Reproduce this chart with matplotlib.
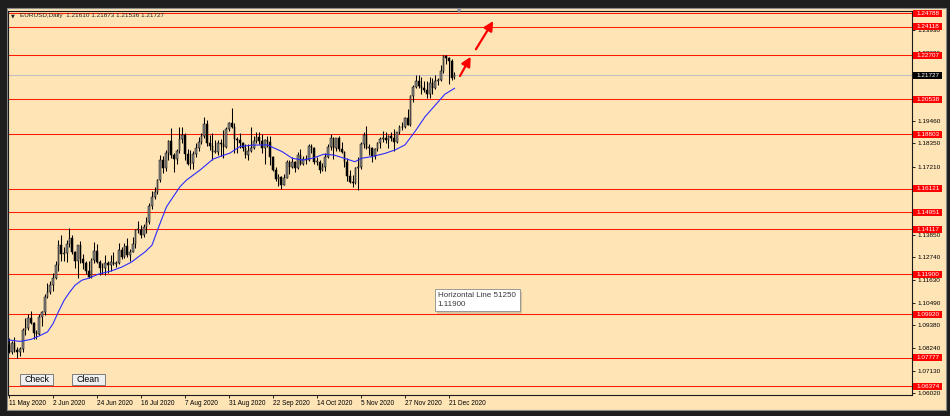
import numpy as np
import matplotlib.pyplot as plt
from matplotlib.patches import Rectangle
import matplotlib.transforms as mtransforms

# ---- data: EURUSD daily bars, 11 May 2020 .. 23 Dec 2020 ----
open_ = [
    1.0840, 1.0805, 1.0850, 1.0815, 1.0805, 1.0820, 1.0915, 1.0925, 1.0975, 1.0950, 1.0900, 1.0895, 1.0980, 1.1005, 1.1075,
    1.1100, 1.1135, 1.1170, 1.1235, 1.1335, 1.1290, 1.1295, 1.1340, 1.1370, 1.1300, 1.1255, 1.1335, 1.1265, 1.1245, 1.1205,
    1.1175, 1.1260, 1.1305, 1.1250, 1.1220, 1.1220, 1.1245,
    1.1235, 1.1250, 1.1240, 1.1245, 1.1310, 1.1275, 1.1330, 1.1285, 1.1300, 1.1340, 1.1410, 1.1410, 1.1385, 1.1425, 1.1445,
    1.1525, 1.1570, 1.1595, 1.1655, 1.1755, 1.1715, 1.1790, 1.1845,
    1.1780, 1.1760, 1.1800, 1.1855, 1.1875, 1.1785, 1.1735, 1.1740, 1.1785, 1.1815, 1.1840, 1.1870, 1.1930, 1.1835, 1.1825,
    1.1795, 1.1795, 1.1835, 1.1830, 1.1820, 1.1905,
    1.1935, 1.1915, 1.1855, 1.1850, 1.1835, 1.1815, 1.1780, 1.1800, 1.1815, 1.1845, 1.1865, 1.1845, 1.1815, 1.1850, 1.1840,
    1.1770, 1.1705, 1.1660, 1.1670, 1.1630, 1.1665, 1.1745,
    1.1720, 1.1745, 1.1715, 1.1780, 1.1735, 1.1760, 1.1755, 1.1825, 1.1815, 1.1745, 1.1745, 1.1705, 1.1720, 1.1770, 1.1820,
    1.1860, 1.1815, 1.1860, 1.1810, 1.1795, 1.1745, 1.1675,
    1.1645, 1.1640, 1.1715, 1.1720, 1.1830, 1.1875, 1.1815, 1.1815, 1.1775, 1.1810, 1.1835, 1.1855, 1.1860, 1.1850, 1.1870,
    1.1860, 1.1840, 1.1890, 1.1915, 1.1915, 1.1960,
    1.1925, 1.2070, 1.2115, 1.2145, 1.2120, 1.2110, 1.2100, 1.2080, 1.2135, 1.2110, 1.2145, 1.2150, 1.2195, 1.2265, 1.2255,
    1.2240, 1.21610,
]
high = [
    1.0875, 1.0860, 1.0880, 1.0830, 1.0830, 1.0925, 1.0975, 1.0995, 1.1010, 1.0955, 1.0915, 1.0995, 1.1010, 1.1090, 1.1145,
    1.1155, 1.1195, 1.1255, 1.1360, 1.1385, 1.1325, 1.1360, 1.1420, 1.1385, 1.1305, 1.1335, 1.1355, 1.1290, 1.1255, 1.1255,
    1.1270, 1.1350, 1.1340, 1.1260, 1.1245, 1.1285, 1.1255,
    1.1285, 1.1300, 1.1255, 1.1345, 1.1325, 1.1345, 1.1370, 1.1315, 1.1375, 1.1415, 1.1450, 1.1435, 1.1440, 1.1470, 1.1540,
    1.1600, 1.1620, 1.1660, 1.1780, 1.1775, 1.1805, 1.1850, 1.1910,
    1.1790, 1.1810, 1.1915, 1.1915, 1.1885, 1.1810, 1.1805, 1.1800, 1.1835, 1.1865, 1.1885, 1.1965, 1.1950, 1.1875, 1.1885,
    1.1850, 1.1850, 1.1855, 1.1900, 1.1915, 1.1940,
    1.2010, 1.1935, 1.1865, 1.1885, 1.1840, 1.1830, 1.1830, 1.1915, 1.1870, 1.1890, 1.1890, 1.1880, 1.1855, 1.1870, 1.1870,
    1.1775, 1.1720, 1.1685, 1.1675, 1.1685, 1.1755, 1.1755,
    1.1770, 1.1750, 1.1795, 1.1810, 1.1775, 1.1780, 1.1830, 1.1830, 1.1820, 1.1770, 1.1755, 1.1740, 1.1790, 1.1830, 1.1880,
    1.1865, 1.1860, 1.1870, 1.1840, 1.1800, 1.1765, 1.1705,
    1.1680, 1.1720, 1.1770, 1.1840, 1.1890, 1.1920, 1.1830, 1.1820, 1.1815, 1.1840, 1.1865, 1.1895, 1.1890, 1.1875, 1.1890,
    1.1905, 1.1890, 1.1925, 1.1940, 1.1965, 1.2005,
    1.2075, 1.2125, 1.2175, 1.2175, 1.2165, 1.2145, 1.2145, 1.2165, 1.2160, 1.2175, 1.2160, 1.2220, 1.2273, 1.2270, 1.2260,
    1.2250, 1.21873,
]
low = [
    1.0800, 1.0795, 1.0805, 1.0775, 1.0785, 1.0805, 1.0890, 1.0915, 1.0945, 1.0870, 1.0870, 1.0890, 1.0935, 1.0990, 1.1070,
    1.1090, 1.1105, 1.1165, 1.1205, 1.1255, 1.1255, 1.1250, 1.1325, 1.1290, 1.1220, 1.1170, 1.1245, 1.1215, 1.1190, 1.1170,
    1.1170, 1.1245, 1.1245, 1.1185, 1.1190, 1.1185, 1.1195,
    1.1205, 1.1235, 1.1225, 1.1240, 1.1265, 1.1270, 1.1275, 1.1255, 1.1300, 1.1320, 1.1395, 1.1370, 1.1375, 1.1395, 1.1440,
    1.1510, 1.1560, 1.1585, 1.1645, 1.1690, 1.1700, 1.1755, 1.1765,
    1.1695, 1.1735, 1.1790, 1.1835, 1.1755, 1.1730, 1.1710, 1.1710, 1.1770, 1.1800, 1.1830, 1.1860, 1.1825, 1.1805, 1.1755,
    1.1790, 1.1780, 1.1775, 1.1765, 1.1815, 1.1895,
    1.1910, 1.1790, 1.1790, 1.1815, 1.1800, 1.1765, 1.1755, 1.1795, 1.1810, 1.1835, 1.1830, 1.1790, 1.1735, 1.1820, 1.1730,
    1.1700, 1.1650, 1.1625, 1.1612, 1.1630, 1.1665, 1.1685,
    1.1715, 1.1695, 1.1710, 1.1730, 1.1730, 1.1735, 1.1750, 1.1790, 1.1735, 1.1730, 1.1690, 1.1700, 1.1700, 1.1765, 1.1805,
    1.1760, 1.1800, 1.1800, 1.1790, 1.1720, 1.1650, 1.1640,
    1.1620, 1.1635, 1.1603, 1.1710, 1.1815, 1.1810, 1.1780, 1.1745, 1.1760, 1.1800, 1.1815, 1.1840, 1.1835, 1.1815, 1.1845,
    1.1800, 1.1835, 1.1880, 1.1900, 1.1910, 1.1925,
    1.1920, 1.2040, 1.2110, 1.2110, 1.2080, 1.2090, 1.2060, 1.2060, 1.2080, 1.2105, 1.2125, 1.2145, 1.2185, 1.2225, 1.2130,
    1.2150, 1.21536,
]
close = [
    1.0805, 1.0850, 1.0815, 1.0805, 1.0820, 1.0915, 1.0925, 1.0975, 1.0950, 1.0900, 1.0895, 1.0980, 1.1005, 1.1075, 1.1100,
    1.1135, 1.1170, 1.1235, 1.1335, 1.1290, 1.1295, 1.1340, 1.1370, 1.1300, 1.1255, 1.1335, 1.1265, 1.1245, 1.1205, 1.1175,
    1.1260, 1.1305, 1.1250, 1.1220, 1.1220, 1.1245, 1.1235,
    1.1250, 1.1240, 1.1245, 1.1310, 1.1275, 1.1330, 1.1285, 1.1300, 1.1340, 1.1410, 1.1410, 1.1385, 1.1425, 1.1445, 1.1525,
    1.1570, 1.1595, 1.1655, 1.1755, 1.1715, 1.1790, 1.1845, 1.1780,
    1.1760, 1.1800, 1.1855, 1.1875, 1.1785, 1.1735, 1.1740, 1.1785, 1.1815, 1.1840, 1.1870, 1.1930, 1.1835, 1.1825, 1.1795,
    1.1795, 1.1835, 1.1830, 1.1820, 1.1905, 1.1935,
    1.1915, 1.1855, 1.1850, 1.1835, 1.1815, 1.1780, 1.1800, 1.1815, 1.1845, 1.1865, 1.1845, 1.1815, 1.1850, 1.1840, 1.1770,
    1.1705, 1.1660, 1.1670, 1.1630, 1.1665, 1.1745, 1.1720,
    1.1745, 1.1715, 1.1780, 1.1735, 1.1760, 1.1755, 1.1825, 1.1815, 1.1745, 1.1745, 1.1705, 1.1720, 1.1770, 1.1820, 1.1860,
    1.1815, 1.1860, 1.1810, 1.1795, 1.1745, 1.1675, 1.1645,
    1.1640, 1.1715, 1.1720, 1.1830, 1.1875, 1.1815, 1.1815, 1.1775, 1.1810, 1.1835, 1.1855, 1.1860, 1.1850, 1.1870, 1.1860,
    1.1840, 1.1890, 1.1915, 1.1915, 1.1960, 1.1925,
    1.2070, 1.2115, 1.2145, 1.2120, 1.2110, 1.2100, 1.2080, 1.2135, 1.2110, 1.2145, 1.2150, 1.2195, 1.2265, 1.2255, 1.2240,
    1.2160, 1.21727,
]

# moving average (bar index, price)
ma_idx = [0, 4, 8, 11, 14, 16, 18, 20, 22, 24, 26.5, 29, 32.5, 37, 41, 44.6, 47, 49.5, 52, 54.5, 57.3, 62.2, 64.6,
          69.5, 74.2, 80.4, 84, 88.7, 94, 96, 99.3, 103, 106.8, 110.6, 114.5, 118.2, 125.8, 128.2, 131.9,
          136.7, 140.4, 144, 147.6, 151.3, 156.1, 158.5, 162]
ma_val = [1.0865, 1.0858, 1.0868, 1.0885, 1.0905, 1.0945, 1.1005, 1.1060, 1.1100, 1.1135, 1.1160, 1.1170, 1.1190,
          1.1205, 1.1225, 1.1250, 1.1275, 1.1300, 1.1333, 1.1425, 1.1523, 1.1622, 1.1655, 1.1704, 1.1758, 1.1788,
          1.1820, 1.1827, 1.1828, 1.1815, 1.1795, 1.1762, 1.1753, 1.1763, 1.1782, 1.1778, 1.1745, 1.1762, 1.1770,
          1.1786, 1.1803, 1.1828, 1.1893, 1.1967, 1.2041, 1.2078, 1.2107]

red_levels = [1.24788, 1.24118, 1.22707, 1.20538, 1.18803, 1.16121, 1.14951, 1.14117,
              1.11900, 1.09920, 1.07777, 1.06374]
bid = 1.21727
price_ticks = [1.23930, 1.22820, 1.21680, 1.20570, 1.19460, 1.18350, 1.17210, 1.16100, 1.14990,
               1.13850, 1.12740, 1.11630, 1.10490, 1.09380, 1.08240, 1.07130, 1.06020]
date_labels = ['11 May 2020', '2 Jun 2020', '24 Jun 2020', '16 Jul 2020', '7 Aug 2020', '31 Aug 2020',
               '22 Sep 2020', '14 Oct 2020', '5 Nov 2020', '27 Nov 2020', '21 Dec 2020']
arrows = [(164.0, 1.2168, 167.9, 1.2263), (169.8, 1.2300, 176.1, 1.2439)]
header = 'EURUSD,Daily  1.21610 1.21873 1.21536 1.21727'
tooltip = ['Horizontal Line 51250', '1.11900']

# ---- figure ----
W, H = 950, 416
BG = '#FFE4B5'
plt.rcParams['font.family'] = ['Liberation Sans', 'DejaVu Sans']

fig = plt.figure(figsize=(W / 100, H / 100), dpi=100, facecolor='#1e1e1e')


def fx(px):
    return px / W


def fy(py):
    return 1 - py / H


fig.add_artist(Rectangle((fx(6.5), fy(409.5)), fx(939), 402 / H, transform=fig.transFigure,
                         fc=BG, ec='#8a8a8a', lw=0.8, zorder=-1))

ax = fig.add_axes([fx(8.3), fy(395), fx(904), (395 - 10.7) / H])
ax.set_facecolor(BG)

o = np.array(open_)
h = np.array(high)
l = np.array(low)
c = np.array(close)
x = np.arange(len(c))
up = c >= o
body_lo = np.minimum(o, c)
body_h = np.maximum(np.abs(c - o), 0.00012)

for lv in red_levels:
    ax.axhline(lv, color='#ff1a00', lw=0.75, zorder=1)
ax.axhline(bid, color='#c0c0c0', lw=0.75, zorder=1)

ax.vlines(x, l, h, color='black', lw=0.75, zorder=2)
ax.bar(x[up], body_h[up], bottom=body_lo[up], width=0.64, color='#8c8c8c',
       edgecolor='black', linewidth=0.35, zorder=3)
ax.bar(x[~up], body_h[~up], bottom=body_lo[~up], width=0.64, color='black',
       edgecolor='black', linewidth=0.35, zorder=3)
ax.plot(ma_idx, ma_val, color='#2b2bff', lw=0.8, zorder=4)

for x0, y0, x1, y1 in arrows:
    ax.annotate('', xy=(x1, y1), xytext=(x0, y0), annotation_clip=False,
                arrowprops=dict(arrowstyle='-|>,head_length=0.55,head_width=0.28', color='#ff0000',
                                lw=1.6, shrinkA=0, shrinkB=0), zorder=5)

ax.set_xlim(-0.25, 328.5)
ax.set_ylim(1.05935, 1.24904)

# axes styling
for s in ax.spines.values():
    s.set_color('#1a1a1a')
    s.set_linewidth(0.8)
ax.yaxis.tick_right()
ax.set_yticks(price_ticks)
ax.set_yticklabels(['%.5f' % t for t in price_ticks])
ax.tick_params(axis='y', direction='out', length=2.5, width=0.6, labelsize=4.6, pad=1.0,
               colors='black')
ax.set_xticks(range(0, 16 * len(date_labels), 16))
ax.set_xticklabels(date_labels, ha='left')
ax.tick_params(axis='x', direction='out', length=2.5, width=0.6, labelsize=4.7, pad=1.2,
               colors='black')

# price labels on the right scale
bt = mtransforms.blended_transform_factory(ax.transAxes, ax.transData)
lab_h = 7 * (1.24904 - 1.05935) / (395 - 10.7)
for lv, fc in [(v, '#ff0000') for v in red_levels] + [(bid, 'black')]:
    ax.add_patch(Rectangle((1.0011, lv - lab_h / 2), 29 / 904, lab_h, transform=bt, fc=fc,
                           ec='none', clip_on=False, zorder=6))
    ax.text(1.0011 + 14.5 / 904, lv, '%.5f' % lv, transform=bt, ha='center', va='center',
            fontsize=4.6, color='white', clip_on=False, zorder=7)

# header and shift marker
fig.text(fx(12.5), fy(15.5), '\u25bc', fontsize=3.5, color='#202020', family='DejaVu Sans',
         ha='center', va='center')
fig.text(fx(20), fy(15.5), header, fontsize=4.6, color='#202020', va='center')
fig.text(fx(459.5), fy(12), '\u25bc', fontsize=4, color='#8a8aa0', family='DejaVu Sans',
         ha='center', va='center')

# buttons
for label, x0 in [('Check', 20), ('Clean', 71.7)]:
    fig.add_artist(Rectangle((fx(x0), fy(385.3)), fx(33.3), 11 / H, transform=fig.transFigure,
                             fc='#f0f0f0', ec='#6a6a6a', lw=0.6, zorder=8))
    fig.text(fx(x0 + 16.6), fy(380), label, fontsize=6.3, color='black', ha='center',
             va='center', zorder=9)

# tooltip
fig.add_artist(Rectangle((fx(437), fy(313.5)), fx(85), 22 / H, transform=fig.transFigure,
                         fc='#9a8a70', ec='none', alpha=0.35, zorder=8))
fig.add_artist(Rectangle((fx(435), fy(311.3)), fx(85), 22 / H, transform=fig.transFigure,
                         fc='white', ec='#8c8c8c', lw=0.6, zorder=9))
fig.text(fx(437.5), fy(295.3), tooltip[0], fontsize=5.8, color='#3a3a3a', va='center', zorder=10)
fig.text(fx(437.5), fy(304.8), tooltip[1], fontsize=5.8, color='#3a3a3a', va='center', zorder=10)

fig.savefig('out.png', dpi=100, facecolor=fig.get_facecolor())
